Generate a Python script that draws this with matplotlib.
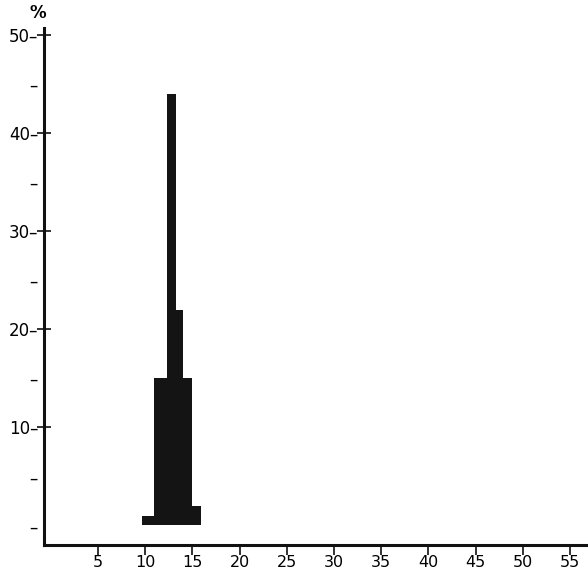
import matplotlib.pyplot as plt
from matplotlib.ticker import FixedLocator, FixedFormatter

# histogram bins (left edge, right edge) and percentage per bin
bin_left = [9.7, 10.9, 12.3, 13.3, 14.0, 15.0]
bin_right = [10.9, 12.3, 13.3, 14.0, 15.0, 15.9]
percent = [1, 15, 44, 22, 15, 2]

x_ticks = [5, 10, 15, 20, 25, 30, 35, 40, 45, 50, 55]
y_major = [10, 20, 30, 40, 50]
y_minor = [0, 5, 15, 25, 35, 45]

fig = plt.figure(figsize=(5.88, 5.73), dpi=100)
ax = fig.add_axes([0.075, 0.049, 0.925, 0.902])

widths = [r - l for l, r in zip(bin_left, bin_right)]
ax.bar(bin_left, percent, width=widths, align="edge", color="#141414",
       edgecolor="none")

ax.set_xlim(-0.7, 56.9)
ax.set_ylim(-2.0, 50.7)

for side in ("top", "right"):
    ax.spines[side].set_visible(False)
for side in ("left", "bottom"):
    ax.spines[side].set_linewidth(2.2)
    ax.spines[side].set_color("#111111")

ax.xaxis.set_major_locator(FixedLocator(x_ticks))
ax.xaxis.set_major_formatter(FixedFormatter([str(v) for v in x_ticks]))
ax.tick_params(axis="x", direction="out", length=7, width=1.2,
               labelsize=11.5, pad=0, color="#111111")

ax.yaxis.set_major_locator(FixedLocator(y_major))
ax.yaxis.set_major_formatter(FixedFormatter([f"{v}–" for v in y_major]))
ax.yaxis.set_minor_locator(FixedLocator(y_minor))
ax.yaxis.set_minor_formatter(FixedFormatter(["–"] * len(y_minor)))
ax.tick_params(axis="y", which="major", direction="inout", length=10,
               width=1.2, labelsize=12, pad=-1, color="#111111")
ax.tick_params(axis="y", which="minor", length=0, labelsize=12, pad=5)

fig.text(0.065, 0.978, "%", fontsize=12, fontweight="bold",
         ha="center", va="center")

fig.savefig("out.png", dpi=100)
